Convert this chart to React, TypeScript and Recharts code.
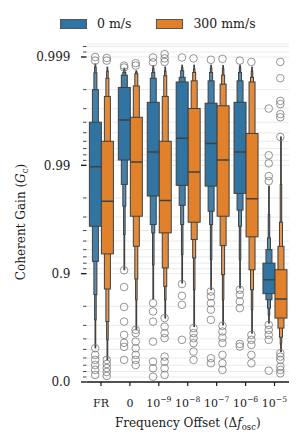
import { Bar, CartesianGrid, ComposedChart, Legend, Scatter, XAxis, YAxis } from "recharts";

if (typeof document !== "undefined") document.body.style.margin = "0";

// categories on the x axis ("1e-9" is drawn as 10^-9)
const CATEGORIES = ["FR", "0", "1e-9", "1e-8", "1e-7", "1e-6", "1e-5"];
const HUES = ["0 m/s", "300 mm/s"];
const HUE_COLORS = ["#3274a1", "#e1812c"];

// letter values per category: [low, high] for each level, innermost first
const LEVELS_0MS: [number, number][][] = [
  [[0.9635, 0.996], [0.923, 0.998], [0.844, 0.9986], [0.733, 0.99876], [0.516, 0.99884]],
  [[0.99107, 0.99809], [0.985, 0.99853], [0.9762, 0.99861], [0.9565, 0.99868], [0.908, 0.99873]],
  [[0.9808, 0.99738], [0.9648, 0.99843], [0.958, 0.99861], [0.917, 0.99871], [0.8285, 0.9988]],
  [[0.9847, 0.9983], [0.9766, 0.99846], [0.9648, 0.99866], [0.9333, 0.99874], [0.878, 0.99881]],
  [[0.98445, 0.99733], [0.9735, 0.99834], [0.9648, 0.99861], [0.9258, 0.99874], [0.8594, 0.99881]],
  [[0.98184, 0.99738], [0.9741, 0.99834], [0.9635, 0.99861], [0.9258, 0.99874], [0.8644, 0.99881]],
  [[0.847, 0.92], [0.826, 0.94], [0.792, 0.9533], [0.76, 0.9716], [0.714, 0.98445]],
];
const LEVELS_300MMS: [number, number][][] = [
  [[0.9343, 0.994], [0.8614, 0.99769], [0.7233, 0.99843], [0.592, 0.99865], [0.375, 0.99876]],
  [[0.9705, 0.9964], [0.9441, 0.99815], [0.888, 0.99857], [0.826, 0.99862], [0.67, 0.99866]],
  [[0.958, 0.994], [0.9115, 0.99769], [0.869, 0.99851], [0.826, 0.99865], [0.743, 0.99876]],
  [[0.9665, 0.99701], [0.9516, 0.99834], [0.9284, 0.99861], [0.8594, 0.99871], [0.692, 0.99881]],
  [[0.9705, 0.99718], [0.9449, 0.99822], [0.898, 0.99853], [0.826, 0.99871], [0.703, 0.9988]],
  [[0.9543, 0.99492], [0.908, 0.9983], [0.8594, 0.99846], [0.785, 0.99865], [0.646, 0.99876]],
  [[0.743, 0.908], [0.682, 0.9441], [0.614, 0.9665], [0.555, 0.985], [0.476, 0.99453]],
];
const MEDIANS_0MS = [0.9897, 0.99619, 0.99247, 0.99438, 0.9937, 0.99247, 0.886];
const MEDIANS_300MMS = [0.9786, 0.99068, 0.9789, 0.98847, 0.99107, 0.9797, 0.8285];

const OUTLIERS_0MS = [
  [0.99892, 0.999, 0.512, 0.438, 0.375, 0.303, 0.226, 0.139],
  [0.99875, 0.9988, 0.907, 0.867, 0.797, 0.723, 0.633, 0.565, 0.526, 0.375],
  [0.99899, 0.99888, 0.813, 0.777, 0.723, 0.576, 0.351, 0.253, 0.107],
  [0.99899, 0.8755, 0.84, 0.806, 0.592],
  [0.99894, 0.854, 0.838, 0.813, 0.785, 0.733, 0.396, 0.329],
  [0.99892, 0.8594, 0.8436, 0.8195, 0.792, 0.555, 0.529],
  [0.99701, 0.99192, 0.99042, 0.98744, 0.98603, 0.703, 0.67, 0.633, 0.592, 0.214],
];
const OUTLIERS_300MMS = [
  [0.99892, 0.99898, 0.375, 0.319, 0.258, 0.192, 0.121],
  [0.9988, 0.99886, 0.67, 0.646, 0.576, 0.512, 0.438, 0.375, 0.303],
  [0.99906, 0.99897, 0.99889, 0.743, 0.692, 0.646, 0.606, 0.417, 0.351, 0.253, 0.139],
  [0.99897, 0.682, 0.646, 0.606, 0.562, 0.476, 0.375],
  [0.99896, 0.697, 0.658, 0.611, 0.562, 0.438, 0.329, 0.226],
  [0.99889, 0.633, 0.592, 0.546, 0.438, 0.329],
  [0.99889, 0.99843, 0.99746, 0.99728, 0.99663, 0.9964, 0.99453, 0.458, 0.417, 0.375, 0.279, 0.226, 0.169],
];

const Y_MAJOR = [0, 0.9, 0.99, 0.999];
const Y_MAJOR_LABELS = ["0.0", "0.9", "0.99", "0.999"];
const Y_MINOR = [
  0.1, 0.2, 0.3, 0.4, 0.5, 0.6, 0.7, 0.8,
  0.91, 0.92, 0.93, 0.94, 0.95, 0.96, 0.97, 0.98,
  0.991, 0.992, 0.993, 0.994, 0.995, 0.996, 0.997, 0.998,
  0.9991, 0.9992,
];

const LEVELS = [LEVELS_0MS, LEVELS_300MMS];
const MEDIANS = [MEDIANS_0MS, MEDIANS_300MMS];
const OUTLIERS = [OUTLIERS_0MS, OUTLIERS_300MMS];

const FONT = "'DejaVu Serif', serif";
const EDGE = "#404040";
const LEVEL_WIDTH = [1, 0.5, 0.25, 0.125, 0.0625];
const LEVEL_TINT = [0, 0.08, 0.2, 0.3, 0.4];
const DODGE = 0.2;

// coherent gain shown on a "number of nines" scale
const nines = (g: number) => -Math.log10(1 - g);

function tint(hex: string, t: number) {
  const n = parseInt(hex.slice(1), 16);
  const c = [n >> 16, (n >> 8) & 255, n & 255].map((v) => Math.round(v + (255 - v) * t));
  return `rgb(${c.join(",")})`;
}

const rows = CATEGORIES.map((cat, i) => {
  const row: Record<string, any> = { cat };
  HUES.forEach((_, h) => {
    LEVELS[h][i].forEach(([lo, hi], k) => {
      row[`h${h}l${k}`] = [nines(lo), nines(hi)];
    });
    const m = nines(MEDIANS[h][i]);
    row[`h${h}med`] = [m, m];
  });
  return row;
});

const outlierPoints = HUES.map((_, h) =>
  OUTLIERS[h].flatMap((vals, i) => vals.map((v) => ({ xi: i + (h === 0 ? -DODGE : DODGE), t: nines(v) })))
);

const Y_TICKS = [...Y_MAJOR, ...Y_MINOR].map(nines);
const Y_DOMAIN = [0, 3.12];

function levelShape(h: number, k: number) {
  return (p: any) => {
    const w = p.width * LEVEL_WIDTH[k];
    const y = Math.min(p.y, p.y + p.height);
    return (
      <rect
        x={p.x + (p.width - w) / 2}
        y={y}
        width={w}
        height={Math.abs(p.height)}
        fill={tint(HUE_COLORS[h], LEVEL_TINT[k])}
        stroke={EDGE}
        strokeWidth={1}
      />
    );
  };
}

const medianShape = (p: any) => (
  <line x1={p.x} x2={p.x + p.width} y1={p.y} y2={p.y} stroke={EDGE} strokeWidth={1.5} />
);

const outlierShape = (p: any) => (
  <circle cx={p.cx} cy={p.cy} r={3.8} fill="none" stroke="#7a7a7a" strokeWidth={0.8} />
);

function YTick({ x, y, payload }: any) {
  const idx = Y_MAJOR.findIndex((v) => Math.abs(nines(v) - payload.value) < 1e-9);
  const major = idx >= 0;
  return (
    <g>
      <line x1={x - (major ? 5.5 : 3.5)} x2={x} y1={y} y2={y} stroke="#1a1a1a" strokeWidth={major ? 1.4 : 0.8} />
      {major && (
        <text x={x - 16} y={y} dy="0.36em" textAnchor="end" fontFamily={FONT} fontSize={12} fill="#1a1a1a">
          {Y_MAJOR_LABELS[idx]}
        </text>
      )}
    </g>
  );
}

function XTick({ x, y, payload }: any) {
  const v = String(payload.value);
  const m = v.match(/^1e-(\d+)$/);
  return (
    <text x={x} y={y + 19} textAnchor="middle" fontFamily={FONT} fontSize={11} fill="#1a1a1a">
      {m ? (
        <>
          10
          <tspan dy={-5} fontSize={7.7}>
            {"\u2212" + m[1]}
          </tspan>
        </>
      ) : (
        v
      )}
    </text>
  );
}

const XLabel = ({ viewBox }: any) => (
  <text x={viewBox.x + viewBox.width / 2} y={viewBox.y + 45} textAnchor="middle" fontFamily={FONT} fontSize={12} fill="#1a1a1a">
    Frequency Offset (Δ<tspan fontStyle="italic">f</tspan>
    <tspan fontSize={8.5} dy={2.5}>
      osc
    </tspan>
    <tspan dy={-2.5}>)</tspan>
  </text>
);

const YLabel = ({ viewBox }: any) => {
  const cy = viewBox.y + viewBox.height / 2 + 9;
  return (
    <text x={25} y={cy} transform={`rotate(-90 25 ${cy})`} textAnchor="middle" fontFamily={FONT} fontSize={12} fill="#1a1a1a">
      Coherent Gain (<tspan fontStyle="italic">G</tspan>
      <tspan fontSize={8.5} dy={2.5}>
        c
      </tspan>
      <tspan dy={-2.5}>)</tspan>
    </text>
  );
};

function LegendBox() {
  return (
    <div style={{ display: "flex", alignItems: "center", paddingLeft: 60, fontFamily: FONT, fontSize: 12.5, color: "#1a1a1a" }}>
      {HUES.map((name, h) => (
        <div key={name} style={{ display: "flex", alignItems: "center", marginRight: 25 }}>
          <span
            style={{
              display: "inline-block",
              width: 27,
              height: 10,
              background: HUE_COLORS[h],
              border: "1px solid #555",
              boxSizing: "border-box",
              marginRight: 10,
            }}
          />
          <span>{name}</span>
        </div>
      ))}
    </div>
  );
}

export default function App() {
  const levelIdx = LEVEL_WIDTH.map((_, k) => k);
  return (
    <ComposedChart
      width={302}
      height={446}
      data={rows}
      margin={{ top: 44, right: 13, bottom: 0, left: 0 }}
      barCategoryGap="10%"
      barGap={0}
    >
      <CartesianGrid xAxisId="x0" yAxisId="y0" vertical={false} stroke="#e6e6e6" strokeWidth={0.8} />
      <XAxis
        xAxisId="x0"
        dataKey="cat"
        height={64}
        interval={0}
        tickSize={4}
        tickLine={{ stroke: "#1a1a1a", strokeWidth: 1.2 }}
        axisLine={{ stroke: "#1a1a1a", strokeWidth: 1.3 }}
        tick={<XTick />}
        label={{ content: <XLabel /> }}
      />
      <YAxis
        yAxisId="y0"
        type="number"
        domain={Y_DOMAIN}
        allowDataOverflow
        ticks={Y_TICKS}
        interval={0}
        width={86.5}
        tickSize={0}
        tickMargin={0}
        axisLine={false}
        tickLine={false}
        tick={<YTick />}
        label={{ content: <YLabel /> }}
      />
      {levelIdx.slice(1).map((k) => (
        <XAxis key={`x${k}`} xAxisId={`x${k}`} dataKey="cat" hide height={0} />
      ))}
      {levelIdx.slice(1).map((k) => (
        <YAxis key={`y${k}`} yAxisId={`y${k}`} type="number" domain={Y_DOMAIN} allowDataOverflow hide width={0} />
      ))}
      <XAxis xAxisId="xm" dataKey="cat" hide height={0} />
      <YAxis yAxisId="ym" type="number" domain={Y_DOMAIN} allowDataOverflow hide width={0} />
      <XAxis xAxisId="num" type="number" dataKey="xi" domain={[-0.5, 6.5]} hide height={0} />

      {[...levelIdx].reverse().flatMap((k) =>
        HUES.map((name, h) => (
          <Bar
            key={`h${h}l${k}`}
            xAxisId={`x${k}`}
            yAxisId={`y${k}`}
            dataKey={`h${h}l${k}`}
            name={name}
            fill={HUE_COLORS[h]}
            shape={levelShape(h, k)}
            isAnimationActive={false}
          />
        ))
      )}
      {HUES.map((name, h) => (
        <Bar
          key={`h${h}med`}
          xAxisId="xm"
          yAxisId="ym"
          dataKey={`h${h}med`}
          name={name}
          shape={medianShape}
          isAnimationActive={false}
        />
      ))}
      {HUES.map((name, h) => (
        <Scatter
          key={`out${h}`}
          xAxisId="num"
          yAxisId="y0"
          data={outlierPoints[h]}
          dataKey="t"
          name={name}
          shape={outlierShape}
          isAnimationActive={false}
        />
      ))}
      <Legend verticalAlign="middle" align="center" layout="horizontal" wrapperStyle={{ top: 16, left: 0, width: 302 }} content={() => <LegendBox />} />
    </ComposedChart>
  );
}
